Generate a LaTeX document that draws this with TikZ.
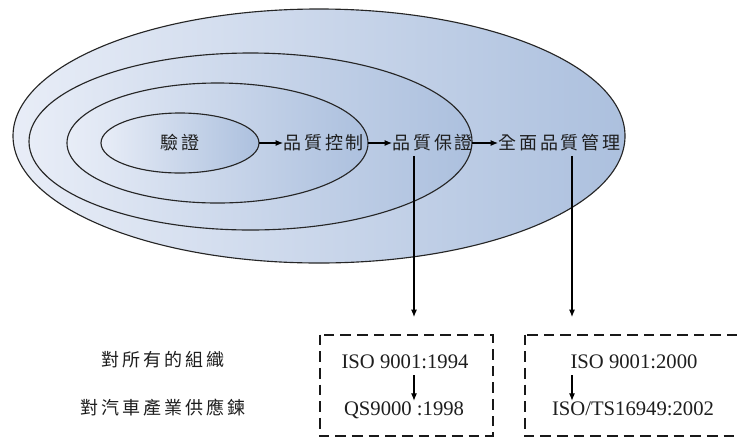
\documentclass[tikz,border=0pt]{standalone}
\usepackage{fontspec}
\setmainfont{Liberation Serif}
\newfontfamily\cjkfont[LetterSpace=16]{Noto Sans CJK TC}
\usetikzlibrary{shapes.geometric,arrows.meta}
\definecolor{shadelight}{RGB}{232,237,247}
\definecolor{shadedark}{RGB}{172,192,222}
\definecolor{inkgray}{RGB}{30,30,30}

\begin{document}
\begin{tikzpicture}[x=0.75pt,y=-0.75pt,
  ring/.style={ellipse, draw=black!85, line width=0.85pt,
    left color=shadelight, right color=shadedark, inner sep=0pt, outer sep=0pt},
  cjk/.style={font=\cjkfont\fontsize{13.5pt}{16pt}\selectfont, text=inkgray,
    inner sep=0pt, text height=11pt, text depth=1pt},
  std/.style={font=\fontsize{15.5pt}{18pt}\selectfont, text=inkgray,
    inner sep=0pt, text height=10.5pt, text depth=0pt},
  link/.style={line width=0.8pt, -{Latex[length=5.5pt,width=4.5pt]}},
  dashedbox/.style={draw=black!90, line width=1.5pt, dash pattern=on 8pt off 4.5pt}]

\useasboundingbox (0,0) rectangle (737,436);
\clip (0,0) rectangle (737,436);

% nested quality stages
\node[ring, minimum width=459pt, minimum height=190.5pt] (outer) at (319,136) {};
\node[ring, minimum width=332.25pt, minimum height=132.75pt] (second) at (250.5,141.5) {};
\node[ring, minimum width=225.75pt, minimum height=90pt] (third) at (217.5,143) {};
\node[ring, minimum width=118.5pt, minimum height=45pt] (inner) at (180,143) {};

\node[cjk] (insp) at (180,143) {驗證};
\node[cjk, anchor=west] (qc) at (283,143) {品質控制};
\node[cjk, anchor=west] (qa) at (392,143) {品質保證};
\node[cjk, anchor=west] (tqm) at (498,143) {全面品質管理};

\draw[link] (inner.east) -- (qc.west);
\draw[link] (third.east) -- (qa.west);
\draw[link] (second.east |- tqm.west) -- (tqm.west);

% drops to the standards
\coordinate (qadrop) at (414,317);
\coordinate (tqmdrop) at (572,317);
\draw[link, shorten <=3.5pt] (qa.south -| qadrop) -- (qadrop);
\draw[link, shorten <=3.5pt] (tqm.south -| tqmdrop) -- (tqmdrop);

% standards boxes
\draw[dashedbox] (319.5,334.5) rectangle (492.5,435.5);
\draw[dashedbox] (524.5,334.5) rectangle (780,435.5);

\node[cjk] (allorg) at (163,360) {對所有的組織};
\node[cjk] (auto) at (163,408) {對汽車產業供應鍊};

\node[std] (iso94) at (405,361) {ISO 9001:1994};
\node[std] (qs98) at (404,408) {QS9000 :1998};
\node[std] (iso00) at (634,361) {ISO 9001:2000};
\node[std] (ts02) at (633,408) {ISO/TS16949:2002};

\draw[link, shorten <=5.25pt] (iso94.south -| qadrop) -- (qs98.north -| qadrop);
\draw[link, shorten <=5.25pt] (iso00.south -| tqmdrop) -- (ts02.north -| tqmdrop);
\end{tikzpicture}
\end{document}
